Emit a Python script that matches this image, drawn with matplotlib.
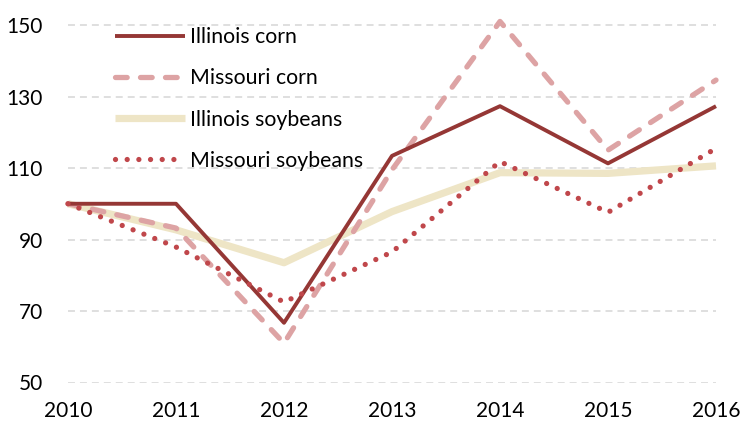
import matplotlib.pyplot as plt

plt.rcParams['font.family'] = ['Lato', 'DejaVu Sans']
plt.rcParams['lines.scale_dashes'] = False

# index values (2010 = 100)
years = [2010, 2011, 2012, 2013, 2014, 2015, 2016]
illinois_corn = [100, 100, 66.7, 113.4, 127.3, 111.3, 127.3]
missouri_corn = [100, 93.2, 61.0, 109.5, 151.0, 115.0, 134.6]
illinois_soy = [100, 92.7, 83.5, 97.8, 108.7, 108.5, 110.6]
missouri_soy = [100, 87.9, 72.5, 86.5, 111.8, 97.6, 115.5]
labels = ['Illinois corn', 'Missouri corn', 'Illinois soybeans', 'Missouri soybeans']
yticks = [50, 70, 90, 110, 130, 150]

fig = plt.figure(figsize=(7.44, 4.28), dpi=100)
ax = fig.add_axes([68 / 744, 45.5 / 428, 648 / 744, 382.5 / 428])

ax.plot(years, illinois_corn, color='#953735', lw=2.8, solid_capstyle='butt',
        label=labels[0], clip_on=False, zorder=4)
ax.plot(years, missouri_corn, color='#DDA3A4', lw=3.8, dash_capstyle='round',
        dashes=(8.4, 9.6), label=labels[1], clip_on=False, zorder=3)
ax.plot(years, illinois_soy, color='#EEE5C6', lw=5.2, solid_capstyle='butt',
        label=labels[2], clip_on=False, zorder=2)
ax.plot(years, missouri_soy, color='#C0474B', lw=3.8, dash_capstyle='round',
        dashes=(0.01, 8.4), label=labels[3], clip_on=False, zorder=5)

ax.set_xlim(2010, 2016)
ax.set_ylim(50, 157)
ax.set_yticks(yticks)
ax.set_xticks(years)
ax.yaxis.grid(True, color='#D9D9D9', lw=1.2, linestyle=(0, (5, 3.6)))
ax.set_axisbelow(True)
for s in ax.spines.values():
    s.set_visible(False)
ax.tick_params(length=0, labelsize=15, colors='#000000')
ax.tick_params(axis='y', pad=18)
ax.tick_params(axis='x', pad=13)

leg = ax.legend(loc='upper left', bbox_to_anchor=(115 / 744, 1 - 27 / 428),
                bbox_transform=fig.transFigure, frameon=False, fontsize=15.3,
                handlelength=3.3, handletextpad=0.25, labelspacing=1.0,
                borderaxespad=0, borderpad=0)

fig.savefig('out.png', dpi=100)
